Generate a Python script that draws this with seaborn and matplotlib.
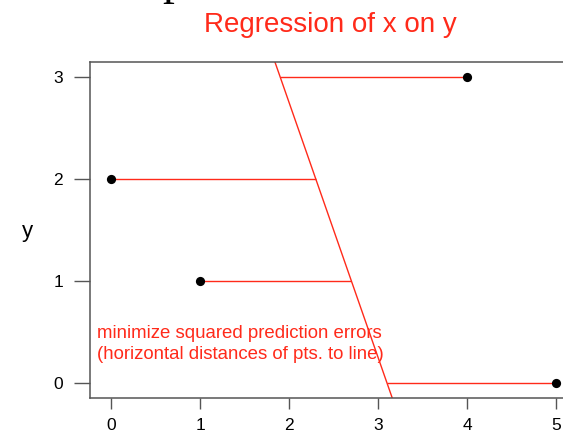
import numpy as np
import pandas as pd
import matplotlib
matplotlib.use("Agg")
import matplotlib.pyplot as plt
import seaborn as sns

# data
x_vals = [0, 1, 4, 5]
y_vals = [2, 1, 3, 0]
x_ticks = [0, 1, 2, 3, 4, 5]
y_ticks = [0, 1, 2, 3]

title = "Regression of x on y"
note_lines = ["minimize squared prediction errors",
              "(horizontal distances of pts. to line)"]

RED = "#ff2a1a"
AXIS_GREY = "#555555"

sns.set_theme(style="white")
plt.rcParams["font.family"] = ["Liberation Sans", "DejaVu Sans"]

df = pd.DataFrame({"x": x_vals, "y": y_vals})

W, H = 563, 434
fig = plt.figure(figsize=(W / 100, H / 100), dpi=100)

# plot region in pixel terms (right edge runs past the figure)
left_px, top_px, bottom_px, right_px = 90, 62, 398, 609.4
ax = fig.add_axes([left_px / W, 1 - bottom_px / H,
                   (right_px - left_px) / W, (bottom_px - top_px) / H])

ax.set_xlim(-0.236, 5.6)
ax.set_ylim(-0.15, 3.145)

# least squares fit of x on y
b, a = np.polyfit(df["y"], df["x"], 1)
x_hat = a + b * df["y"]

# horizontal residuals from each point to the fitted line
ax.hlines(df["y"], x_hat, df["x"], color=RED, lw=1.0, zorder=2)

# the fitted line across the whole plotting region
y0, y1 = ax.get_ylim()
ax.plot([a + b * y0, a + b * y1], [y0, y1], color=RED, lw=1.0, zorder=2,
        clip_on=True)

sns.scatterplot(data=df, x="x", y="y", ax=ax, color="black", s=44,
                edgecolor="black", linewidth=0, zorder=3)

for line, yy in zip(note_lines, [0.438, 0.232]):
    ax.text(-0.157, yy, line, color=RED, fontsize=13.4, ha="left",
            va="baseline", zorder=4)

ax.set_xticks(x_ticks)
ax.set_yticks(y_ticks)
ax.set_xticklabels([str(t) for t in x_ticks])
ax.set_yticklabels([str(t) for t in y_ticks])
ax.set_xlabel("")
ax.set_ylabel("y", rotation=0, fontsize=16, color="black", ha="center",
              va="center")
ax.yaxis.set_label_coords((27.5 - left_px) / (right_px - left_px),
                          (bottom_px - 231) / (bottom_px - top_px))

ax.tick_params(axis="x", direction="out", length=7.6, width=1.0,
               color=AXIS_GREY, pad=7, labelsize=12.5, labelcolor="black",
               bottom=True)
ax.tick_params(axis="y", direction="out", length=11.5, width=1.0,
               color=AXIS_GREY, pad=8, labelsize=12.5, labelcolor="black",
               left=True)

for side in ["left", "bottom", "top"]:
    ax.spines[side].set_visible(True)
    ax.spines[side].set_color(AXIS_GREY)
    ax.spines[side].set_linewidth(1.1)
ax.spines["right"].set_visible(False)
ax.grid(False)

fig.text(330 / W, 1 - 32 / H, title, color=RED, fontsize=20, ha="center",
         va="baseline")

# tail of the large heading sitting above this panel
fig.text(162 / W, 1 + 6 / H, "p", color="black", fontsize=34,
         family="Liberation Serif", ha="left", va="baseline")

fig.savefig("out.png", dpi=100, facecolor="white")
